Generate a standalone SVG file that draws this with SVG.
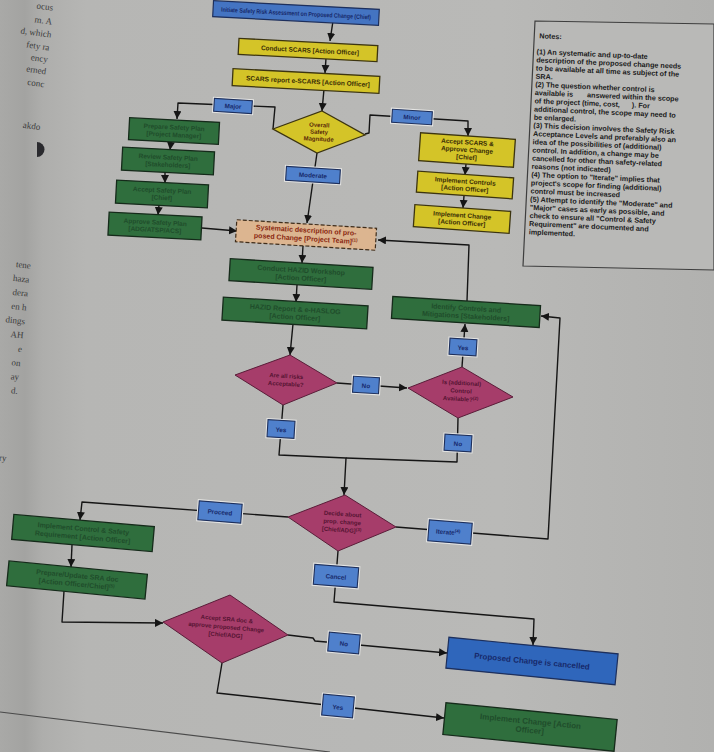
<svg xmlns="http://www.w3.org/2000/svg" width="714" height="752" viewBox="0 0 714 752">
<defs>
<linearGradient id="bg" x1="0" y1="0" x2="1" y2="0">
<stop offset="0" stop-color="#a9a9a7"/>
<stop offset="0.035" stop-color="#a3a3a1"/>
<stop offset="0.06" stop-color="#aeaeac"/>
<stop offset="0.12" stop-color="#b6b6b4"/>
<stop offset="0.7" stop-color="#b9b9b7"/>
<stop offset="1" stop-color="#b1b1af"/>
</linearGradient>
<marker id="ah" markerUnits="userSpaceOnUse" markerWidth="9" markerHeight="9" refX="8" refY="4" orient="auto">
<path d="M0,0 L8,4 L0,8 Z" fill="#151515"/>
</marker>
<style>
.ln{fill:none;stroke:#151515;stroke-width:1.4;stroke-linejoin:round}
.ar{marker-end:url(#ah)}
.blu{fill:#4474c2;stroke:#1d2f5c;stroke-width:1.2}
.halo{fill:none;stroke:#e4e4e2;stroke-width:3.2}
.lb{fill:#4f80cc;stroke:#1d2f5c;stroke-width:1.1}
.yel{fill:#d4c428;stroke:#3c3410;stroke-width:1.3}
.grn{fill:#2f6e3d;stroke:#152a1a;stroke-width:1.3}
.mag{fill:#a63d6a;stroke:#5a1d39;stroke-width:1}
.org{fill:#dcb590;stroke:#3e2c1a;stroke-width:1.2;stroke-dasharray:4 2}
.t{font-family:"Liberation Sans",Arial,sans-serif;text-anchor:middle;font-weight:bold}
.ty{font-size:6.5px;fill:#3a2e06}
.tg{font-size:6.5px;fill:#1f4d2b}
.tb{font-size:6.3px;fill:#17296a}
.tm{font-size:6px;fill:#561433}
.to{font-size:7px;fill:#8a2810}
.nt{font-family:"Liberation Sans",Arial,sans-serif;font-size:7.2px;fill:#1a1a1a;font-weight:bold}
.pg{font-family:"Liberation Serif","Times New Roman",serif;font-size:9px;fill:#3c3c3c;text-anchor:end}
</style>
</defs>
<rect x="0" y="0" width="714" height="752" fill="url(#bg)"/>
<g id="facing-page" transform="rotate(8 20 200)">
<text class="pg" x="26" y="8">ocus</text>
<text class="pg" x="27" y="22">m.    A</text>
<text class="pg" x="28" y="35">d, which</text>
<text class="pg" x="28" y="48">fety ra</text>
<text class="pg" x="28" y="60">ency</text>
<text class="pg" x="28" y="72">erned</text>
<text class="pg" x="28" y="85">conc</text>
<text class="pg" x="30" y="128">akdo</text>
</g>
<g transform="rotate(6 20 350)">
<text class="pg" x="22" y="268">tene</text>
<text class="pg" x="22" y="282">haza</text>
<text class="pg" x="22" y="296">dera</text>
<text class="pg" x="22" y="310">en h</text>
<text class="pg" x="22" y="324">dings</text>
<text class="pg" x="22" y="338">AH</text>
<text class="pg" x="22" y="352">e</text>
<text class="pg" x="22" y="366">on</text>
<text class="pg" x="22" y="380">ay</text>
<text class="pg" x="22" y="394">d.</text>
<text class="pg" x="18" y="462">ry</text>
</g>
<path d="M37,142 A7.5,7.5 0 0 1 37,157 Z" fill="#2a2a2e"/>
<line x1="0" y1="712" x2="330" y2="752" stroke="#4a4a4a" stroke-width="1.2"/>

<g id="connectors">
<path class="ln ar" d="M333,21 L330,41"/>
<path class="ln ar" d="M326,58 L325,73"/>
<path class="ln ar" d="M324,89 L322,111"/>
<path class="ln ar" d="M273,129 L275,107 L178,103 L177,119"/>
<path class="ln ar" d="M171,142 L170,150"/>
<path class="ln ar" d="M165,172 L165,183"/>
<path class="ln ar" d="M159,205 L158,215"/>
<path class="ln ar" d="M202,228 L237,231"/>
<path class="ln ar" d="M317,153 L307,223"/>
<path class="ln ar" d="M365,134 L369,133 L370,115 L468,121 L468,136"/>
<path class="ln ar" d="M466,164 L465,175"/>
<path class="ln ar" d="M464,196 L463,208"/>
<path class="ln ar" d="M303,246 L302,263"/>
<path class="ln ar" d="M297,285 L296,302"/>
<path class="ln ar" d="M293,324 L290,355"/>
<path class="ln ar" d="M467,301 L469,245 L378,240"/>
<path class="ln ar" d="M337,383 L407,388"/>
<path class="ln ar" d="M462,367 L465,324"/>
<path class="ln" d="M458,418 L457,462 L346,458"/>
<path class="ln ar" d="M283,405 L279,455 L346,458 L344,495"/>
<path class="ln ar" d="M396,527 L548,539 L560,318 L541,316"/>
<path class="ln ar" d="M338,551 L334,602 L534,619 L533,645"/>
<path class="ln ar" d="M288,517 L82,502 L80,520"/>
<path class="ln ar" d="M72,545 L71,567"/>
<path class="ln ar" d="M64,591 L62,622 L163,623"/>
<path class="ln ar" d="M288,635 L313,638 L315,641 L447,653"/>
<path class="ln ar" d="M222,663 L217,693 L444,718"/>
</g>

<g id="n-initiate" transform="rotate(3 296 13)"><rect class="blu" x="213" y="5" width="166" height="16"/><text class="t tb" x="296" y="15.5" textLength="150" lengthAdjust="spacingAndGlyphs">Initiate Safety Risk Assessment on Proposed Change (Chief)</text></g>
<g id="n-conduct-scars" transform="rotate(3 308 50)"><rect class="yel" x="238.5" y="42" width="139" height="16"/><text class="t ty" x="310" y="52.5" textLength="98" lengthAdjust="spacingAndGlyphs">Conduct SCARS [Action Officer]</text></g>
<g id="n-scars-report" transform="rotate(3 306 81)"><rect class="yel" x="232.5" y="72.5" width="147" height="17"/><text class="t ty" x="308" y="83.5" textLength="124" lengthAdjust="spacingAndGlyphs">SCARS report e-SCARS [Action Officer]</text></g>
<g id="n-magnitude"><polygon class="yel" points="322,111 365,135 317,153 273,129"/><g transform="rotate(3 319 132)"><text class="t ty" x="319" y="127" style="fill:#5a2a08;font-size:6px">Overall</text><text class="t ty" x="319" y="134" style="fill:#5a2a08;font-size:6px">Safety</text><text class="t ty" x="319" y="141" style="fill:#5a2a08;font-size:6px">Magnitude</text></g></g>

<g id="n-prepare-plan" transform="rotate(3 174 131)"><rect class="grn" x="129" y="120" width="90" height="22"/><text class="t tg" x="174" y="129.5">Prepare Safety Plan</text><text class="t tg" x="174" y="137">[Project Manager]</text></g>
<g id="n-review-plan" transform="rotate(3 168 161)"><rect class="grn" x="122" y="149.5" width="92" height="23"/><text class="t tg" x="168" y="159.5">Review Safety Plan</text><text class="t tg" x="168" y="167">[Stakeholders]</text></g>
<g id="n-accept-plan" transform="rotate(3 162 194)"><rect class="grn" x="116" y="182.5" width="92" height="23"/><text class="t tg" x="162" y="192.5">Accept Safety Plan</text><text class="t tg" x="162" y="200">[Chief]</text></g>
<g id="n-approve-plan" transform="rotate(3 155 226)"><rect class="grn" x="108.5" y="214.5" width="93" height="23"/><text class="t tg" x="155" y="224.5">Approve Safety Plan</text><text class="t tg" x="155" y="232">[ADG/ATSP/ACS]</text></g>

<g id="n-systematic" transform="rotate(3.5 306 235)"><rect class="org" x="236" y="224" width="140" height="22"/><text class="t to" x="306" y="232.5">Systematic description of pro-</text><text class="t to" x="306" y="241">posed Change [Project Team]<tspan dy="-2.5" font-size="4.5">(1)</tspan></text></g>

<g id="n-accept-scars" transform="rotate(4 467 150)"><rect class="yel" x="419.5" y="136" width="95" height="28"/><text class="t ty" x="467" y="144.5">Accept SCARS &amp;</text><text class="t ty" x="467" y="152">Approve Change</text><text class="t ty" x="467" y="159.5">[Chief]</text></g>
<g id="n-impl-controls" transform="rotate(4 465 185)"><rect class="yel" x="417" y="174.5" width="96" height="21"/><text class="t ty" x="465" y="183.5">Implement Controls</text><text class="t ty" x="465" y="191">[Action Officer]</text></g>
<g id="n-impl-change-y" transform="rotate(4 462 219)"><rect class="yel" x="414" y="208" width="96" height="22"/><text class="t ty" x="462" y="217.5">Implement Change</text><text class="t ty" x="462" y="225">[Action Officer]</text></g>

<g id="n-notes"><polygon points="535,21 714,24 714,270 523,266" fill="#b9b9b7" stroke="#3e3e3e" stroke-width="1.2"/>
<g transform="rotate(2.5 535 21)">
<text class="nt" x="540" y="38">Notes:</text>
<text class="nt" x="538" y="54">(1)  An systematic and up-to-date</text>
<text class="nt" x="538" y="62.2">description of the proposed change needs</text>
<text class="nt" x="538" y="70.4">to be available at all time as subject of the</text>
<text class="nt" x="538" y="78.6">SRA.</text>
<text class="nt" x="538" y="86.8">(2)  The question whether control is</text>
<text class="nt" x="538" y="95">available is <tspan dx="12">answered within the scope</tspan></text>
<text class="nt" x="538" y="103.2">of the project (time, cost, <tspan dx="10">).  For</tspan></text>
<text class="nt" x="538" y="111.4">additional control, the scope may need to</text>
<text class="nt" x="538" y="119.6">be enlarged.</text>
<text class="nt" x="538" y="127.8">(3)  This decision involves the Safety Risk</text>
<text class="nt" x="538" y="136">Acceptance Levels and preferably also an</text>
<text class="nt" x="538" y="144.2">idea of the possibilities of (additional)</text>
<text class="nt" x="538" y="152.4">control.  In addition, a change may be</text>
<text class="nt" x="538" y="160.6">cancelled for other than safety-related</text>
<text class="nt" x="538" y="168.8">reasons (not indicated)</text>
<text class="nt" x="538" y="177">(4)  The option to "Iterate" implies that</text>
<text class="nt" x="538" y="185.2">project's scope for finding (additional)</text>
<text class="nt" x="538" y="193.4">control must be increased</text>
<text class="nt" x="538" y="201.6">(5)  Attempt to identify the "Moderate" and</text>
<text class="nt" x="538" y="209.8">"Major" cases as early as possible, and</text>
<text class="nt" x="538" y="218">check to ensure all "Control &amp; Safety</text>
<text class="nt" x="538" y="226.2">Requirement" are documented and</text>
<text class="nt" x="538" y="234.4">implemented.</text>
</g></g>

<g id="n-hazid-workshop" transform="rotate(3.5 301 274)"><rect class="grn" x="229.5" y="263" width="143" height="22"/><text class="t tg" x="301" y="272.5" style="font-size:7px">Conduct HAZID Workshop</text><text class="t tg" x="301" y="280.5" style="font-size:7px">[Action Officer]</text></g>
<g id="n-hazid-report" transform="rotate(3.5 295 313)"><rect class="grn" x="222.5" y="301.5" width="145" height="23"/><text class="t tg" x="295" y="311.5" style="font-size:7px">HAZID Report &amp; e-HASLOG</text><text class="t tg" x="295" y="319.5" style="font-size:7px">[Action Officer]</text></g>
<g id="n-identify" transform="rotate(3.5 466 312)"><rect class="grn" x="392" y="301" width="148" height="22"/><text class="t tg" x="466" y="310.5" style="font-size:7px">Identify Controls and</text><text class="t tg" x="466" y="318.5" style="font-size:7px">Mitigations [Stakeholders]</text></g>

<g id="n-risks-acceptable"><polygon class="mag" points="290,355 337,383 283,405 235,375"/><g transform="rotate(3.5 286 380)"><text class="t tm" x="286" y="378">Are all risks</text><text class="t tm" x="286" y="386">Acceptable?</text></g></g>
<g id="n-control-available"><polygon class="mag" points="462,367 513,397 458,418 408,388"/><g transform="rotate(3.5 461 392)"><text class="t tm" x="461" y="385">Is (additional)</text><text class="t tm" x="461" y="393">Control</text><text class="t tm" x="461" y="401">Available?<tspan dy="-2" font-size="4.5">(2)</tspan></text></g></g>
<g id="n-decide"><polygon class="mag" points="345,495 396,527 338,551 288,517"/><g transform="rotate(4 342 523)"><text class="t tm" x="342" y="516">Decide about</text><text class="t tm" x="342" y="524">prop. change</text><text class="t tm" x="342" y="532">[Chief/ADG]<tspan dy="-2" font-size="4.5">(3)</tspan></text></g></g>

<g id="n-implement-control" transform="rotate(5 83 533)"><rect class="grn" x="12.5" y="520.5" width="141" height="25"/><text class="t tg" x="83" y="531" style="font-size:7px">Implement Control &amp; Safety</text><text class="t tg" x="83" y="539.5" style="font-size:7px">Requirement [Action Officer]</text></g>
<g id="n-prepare-sra" transform="rotate(5.5 77 580)"><rect class="grn" x="7.5" y="567.5" width="139" height="25"/><text class="t tg" x="77" y="578" style="font-size:7px">Prepare/Update SRA doc</text><text class="t tg" x="77" y="586.5" style="font-size:7px">[Action Officer/Chief]<tspan dy="-2.5" font-size="4.5">(5)</tspan></text></g>
<g id="n-accept-sra"><polygon class="mag" points="230,595 288,635 222,663 163,622"/><g transform="rotate(5 226 629)"><text class="t tm" x="226" y="621">Accept SRA doc &amp;</text><text class="t tm" x="226" y="629">approve proposed Change</text><text class="t tm" x="226" y="637">[Chief/ADG]</text></g></g>
<g id="n-cancelled" transform="rotate(5.6 532 661)"><rect class="blu" x="447" y="645.5" width="170" height="31" style="fill:#2f66bb"/><text class="t tb" x="532" y="664" style="font-size:8px">Proposed Change is cancelled</text></g>
<g id="n-implement-change" transform="rotate(5.6 530 727)"><rect class="grn" x="444" y="711" width="172" height="32"/><text class="t tg" x="530" y="724" style="font-size:8px">Implement Change [Action</text><text class="t tg" x="530" y="733" style="font-size:8px">Officer]</text></g>

<g id="labels">
<g transform="rotate(3.5 233 106)"><rect class="halo" x="214" y="99.5" width="38" height="13"/><rect class="lb" x="214" y="99.5" width="38" height="13"/><text class="t tb" x="233" y="108.5">Major</text></g>
<g transform="rotate(3.5 412 117)"><rect class="halo" x="392" y="110.5" width="40" height="13"/><rect class="lb" x="392" y="110.5" width="40" height="13"/><text class="t tb" x="412" y="119.5">Minor</text></g>
<g transform="rotate(3.5 313 175)"><rect class="halo" x="286" y="168" width="54" height="14"/><rect class="lb" x="286" y="168" width="54" height="14"/><text class="t tb" x="313" y="177.5">Moderate</text></g>
<g transform="rotate(3.5 366 385)"><rect class="halo" x="353" y="377" width="26" height="16"/><rect class="lb" x="353" y="377" width="26" height="16"/><text class="t tb" x="366" y="388">No</text></g>
<g transform="rotate(3.5 463 347)"><rect class="halo" x="449.5" y="339" width="27" height="16"/><rect class="lb" x="449.5" y="339" width="27" height="16"/><text class="t tb" x="463" y="350">Yes</text></g>
<g transform="rotate(3.5 281 429)"><rect class="halo" x="267.5" y="420.5" width="27" height="17"/><rect class="lb" x="267.5" y="420.5" width="27" height="17"/><text class="t tb" x="281" y="432">Yes</text></g>
<g transform="rotate(3.5 458 443)"><rect class="halo" x="444.5" y="435" width="27" height="16"/><rect class="lb" x="444.5" y="435" width="27" height="16"/><text class="t tb" x="458" y="446">No</text></g>
<g transform="rotate(4.5 220 512)"><rect class="halo" x="198.5" y="502.5" width="43" height="19"/><rect class="lb" x="198.5" y="502.5" width="43" height="19"/><text class="t tb" x="220" y="514.5">Proceed</text></g>
<g transform="rotate(4.5 450 532)"><rect class="halo" x="428.5" y="521.5" width="43" height="21"/><rect class="lb" x="428.5" y="521.5" width="43" height="21"/><text class="t tb" x="448" y="534.5">Iterate<tspan dy="-2.5" font-size="4.5">(4)</tspan></text></g>
<g transform="rotate(4.5 336 576)"><rect class="halo" x="314" y="566" width="44" height="20"/><rect class="lb" x="314" y="566" width="44" height="20"/><text class="t tb" x="336" y="579">Cancel</text></g>
<g transform="rotate(5 344 643)"><rect class="halo" x="328.5" y="633.5" width="31" height="19"/><rect class="lb" x="328.5" y="633.5" width="31" height="19"/><text class="t tb" x="344" y="646">No</text></g>
<g transform="rotate(5 338 706)"><rect class="halo" x="322.5" y="695.5" width="31" height="21"/><rect class="lb" x="322.5" y="695.5" width="31" height="21"/><text class="t tb" x="338" y="709.5">Yes</text></g>
</g>
</svg>
